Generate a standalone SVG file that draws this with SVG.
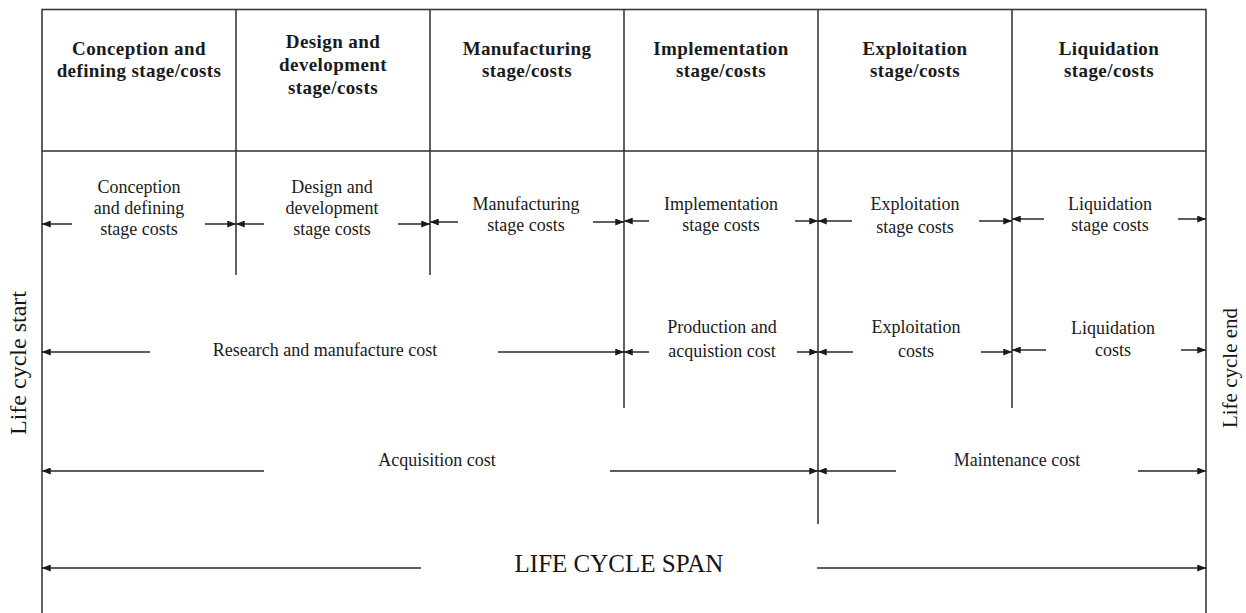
<svg xmlns="http://www.w3.org/2000/svg" width="1246" height="613" viewBox="0 0 1246 613">
<style>
.ln{stroke:#3a3a3a;stroke-width:1.6;fill:none}
.ar{stroke:#2a2a2a;stroke-width:1.5;fill:none;marker-end:url(#ah)}
.h{font-family:"Liberation Serif","Times New Roman",serif;font-weight:bold;font-size:19px;letter-spacing:0.4px;fill:#1a1a1a;text-anchor:middle}
.t{font-family:"Liberation Serif","Times New Roman",serif;font-size:18px;fill:#1a1a1a;text-anchor:middle}
.big{font-family:"Liberation Serif","Times New Roman",serif;font-size:25px;fill:#151515;text-anchor:middle}
.side{font-family:"Liberation Serif","Times New Roman",serif;fill:#151515;text-anchor:middle}
</style>
<defs>
<marker id="ah" viewBox="0 0 10 8" refX="10" refY="4" markerWidth="10" markerHeight="7" markerUnits="userSpaceOnUse" orient="auto">
<path d="M0,0 L10,4 L0,8 z" fill="#1a1a1a"/>
</marker>
</defs>
<rect width="1246" height="613" fill="#ffffff"/>

<g id="frame">
<rect class="ln" x="42" y="9.5" width="1164" height="141.5"/>
<line class="ln" x1="42" y1="151" x2="42" y2="613"/>
<line class="ln" x1="1206" y1="151" x2="1206" y2="613"/>
<line class="ln" x1="236" y1="9.5" x2="236" y2="275"/>
<line class="ln" x1="430" y1="9.5" x2="430" y2="275"/>
<line class="ln" x1="624" y1="9.5" x2="624" y2="408"/>
<line class="ln" x1="818" y1="9.5" x2="818" y2="524"/>
<line class="ln" x1="1012" y1="9.5" x2="1012" y2="408"/>
</g>

<g id="head-conception"><text class="h" x="139" y="55">Conception and</text><text class="h" x="139" y="77">defining stage/costs</text></g>
<g id="head-design"><text class="h" x="333" y="48">Design and</text><text class="h" x="333" y="71">development</text><text class="h" x="333" y="94">stage/costs</text></g>
<g id="head-manufacturing"><text class="h" x="527" y="55">Manufacturing</text><text class="h" x="527" y="77">stage/costs</text></g>
<g id="head-implementation"><text class="h" x="721" y="55">Implementation</text><text class="h" x="721" y="77">stage/costs</text></g>
<g id="head-exploitation"><text class="h" x="915" y="55">Exploitation</text><text class="h" x="915" y="77">stage/costs</text></g>
<g id="head-liquidation"><text class="h" x="1109" y="55">Liquidation</text><text class="h" x="1109" y="77">stage/costs</text></g>

<g id="cost-conception"><text class="t" x="139" y="193">Conception</text><text class="t" x="139" y="214">and defining</text><text class="t" x="139" y="235">stage costs</text></g>
<g id="cost-design"><text class="t" x="332" y="193">Design and</text><text class="t" x="332" y="214">development</text><text class="t" x="332" y="235">stage costs</text></g>
<g id="cost-manufacturing"><text class="t" x="526" y="210">Manufacturing</text><text class="t" x="526" y="231">stage costs</text></g>
<g id="cost-implementation"><text class="t" x="721" y="210">Implementation</text><text class="t" x="721" y="231">stage costs</text></g>
<g id="cost-exploitation"><text class="t" x="915" y="210">Exploitation</text><text class="t" x="915" y="233">stage costs</text></g>
<g id="cost-liquidation"><text class="t" x="1110" y="210">Liquidation</text><text class="t" x="1110" y="231">stage costs</text></g>

<g id="research"><text class="t" x="325" y="356">Research and manufacture cost</text></g>
<g id="production"><text class="t" x="722" y="333">Production and</text><text class="t" x="722" y="357">acquistion cost</text></g>
<g id="exploitation-costs"><text class="t" x="916" y="333">Exploitation</text><text class="t" x="916" y="357">costs</text></g>
<g id="liquidation-costs"><text class="t" x="1113" y="334">Liquidation</text><text class="t" x="1113" y="356">costs</text></g>

<g id="acquisition"><text class="t" x="437" y="466">Acquisition cost</text></g>
<g id="maintenance"><text class="t" x="1017" y="466">Maintenance cost</text></g>

<g id="span"><text class="big" x="619" y="572">LIFE CYCLE SPAN</text></g>

<g id="start"><text class="side" font-size="24" transform="translate(26,363) rotate(-90)">Life cycle start</text></g>
<g id="end"><text class="side" font-size="21" transform="translate(1237,368) rotate(-90)">Life cycle end</text></g>

<g id="connectors">
<line class="ar" x1="72" y1="224" x2="42" y2="224"/>
<line class="ar" x1="205" y1="224" x2="236" y2="224"/>
<line class="ar" x1="264" y1="224" x2="236" y2="224"/>
<line class="ar" x1="398" y1="224" x2="430" y2="224"/>
<line class="ar" x1="458" y1="222" x2="430" y2="222"/>
<line class="ar" x1="593" y1="222" x2="624" y2="222"/>
<line class="ar" x1="649" y1="221" x2="624" y2="221"/>
<line class="ar" x1="795" y1="221" x2="818" y2="221"/>
<line class="ar" x1="852" y1="221" x2="818" y2="221"/>
<line class="ar" x1="979" y1="221" x2="1012" y2="221"/>
<line class="ar" x1="1044" y1="219" x2="1012" y2="219"/>
<line class="ar" x1="1178" y1="219" x2="1206" y2="219"/>

<line class="ar" x1="150" y1="352" x2="42" y2="352"/>
<line class="ar" x1="498" y1="352" x2="624" y2="352"/>
<line class="ar" x1="649" y1="352" x2="624" y2="352"/>
<line class="ar" x1="797" y1="352" x2="818" y2="352"/>
<line class="ar" x1="853" y1="352" x2="818" y2="352"/>
<line class="ar" x1="981" y1="352" x2="1012" y2="352"/>
<line class="ar" x1="1046" y1="350" x2="1012" y2="350"/>
<line class="ar" x1="1181" y1="350" x2="1206" y2="350"/>

<line class="ar" x1="264" y1="471" x2="42" y2="471"/>
<line class="ar" x1="610" y1="471" x2="818" y2="471"/>
<line class="ar" x1="896" y1="471" x2="818" y2="471"/>
<line class="ar" x1="1138" y1="471" x2="1206" y2="471"/>

<line class="ar" x1="421" y1="568" x2="42" y2="568"/>
<line class="ar" x1="817" y1="568" x2="1206" y2="568"/>
</g>
</svg>
